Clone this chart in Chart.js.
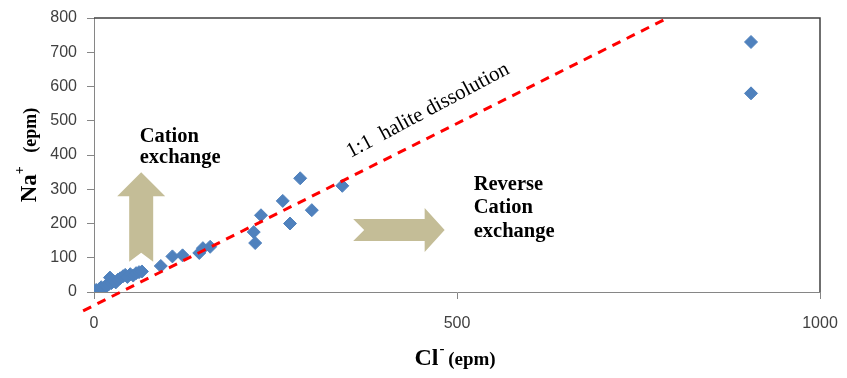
<!DOCTYPE html>
<html>
<head>
<meta charset="utf-8">
<script src="https://cdn.jsdelivr.net/npm/chart.js@4"></script>
<style>
  html, body { margin: 0; padding: 0; background: #fff; }
  #wrap { width: 847px; height: 378px; position: relative; }
</style>
</head>
<body>
<div id="wrap"><canvas id="naClChart"></canvas></div>
<script>
// Data (epm)
const clValues = [905, 905, 342, 284, 300, 260, 270, 230, 220, 222, 160, 150, 145, 122, 108, 92,
  0, 3, 6, 8, 10, 13, 16, 20, 22, 24, 27, 30, 33, 36, 40, 43, 46, 50, 54, 58, 62, 66];
const naValues = [730, 580, 310, 332, 239, 266, 200, 224, 175, 143, 132, 128, 114, 107, 104, 76,
  2, 6, 4, 10, 14, 8, 18, 22, 42, 26, 32, 28, 36, 40, 46, 50, 44, 52, 48, 55, 58, 60];
const halite = [[-15, -55], [790, 800]]; // 1:1 reference line ends
const xTicks = [0, 500, 1000];
const yTicks = [0, 100, 200, 300, 400, 500, 600, 700, 800];

const points = clValues.map((c, i) => ({ x: c, y: naValues[i] }));
const lineData = halite.map(p => ({ x: p[0], y: p[1] }));

// plot area edges in the picture
const plotLeft = 94, plotBottom = 292;

// Annotations: text, arrows and axis titles
const notes = {
  id: 'notes',
  beforeDatasetsDraw(chart) {
    const ctx = chart.ctx;
    const xs = chart.scales.x, ys = chart.scales.y;
    ctx.save();
    ctx.fillStyle = '#C4BD97';

    // up arrow (Cation exchange)
    let cx = xs.getPixelForValue(65), top = ys.getPixelForValue(350), bot = ys.getPixelForValue(88);
    ctx.beginPath();
    ctx.moveTo(cx, top);
    ctx.lineTo(cx + 24, top + 24);
    ctx.lineTo(cx + 12, top + 24);
    ctx.lineTo(cx + 12, bot);
    ctx.lineTo(cx, bot - 9);
    ctx.lineTo(cx - 12, bot);
    ctx.lineTo(cx - 12, top + 24);
    ctx.lineTo(cx - 24, top + 24);
    ctx.closePath();
    ctx.fill();

    // right arrow (Reverse cation exchange)
    let left = xs.getPixelForValue(357), tip = xs.getPixelForValue(483), cy = ys.getPixelForValue(181);
    ctx.beginPath();
    ctx.moveTo(left, cy - 11);
    ctx.lineTo(tip - 20, cy - 11);
    ctx.lineTo(tip - 20, cy - 22);
    ctx.lineTo(tip, cy);
    ctx.lineTo(tip - 20, cy + 22);
    ctx.lineTo(tip - 20, cy + 11);
    ctx.lineTo(left, cy + 11);
    ctx.lineTo(left + 11, cy);
    ctx.closePath();
    ctx.fill();
    ctx.restore();
  },
  afterDraw(chart) {
    const ctx = chart.ctx;
    const xs = chart.scales.x, ys = chart.scales.y;
    const area = chart.chartArea;
    ctx.save();

    // top and right frame
    ctx.strokeStyle = '#404040';
    ctx.lineWidth = 1.5;
    ctx.beginPath();
    ctx.moveTo(area.left, area.top);
    ctx.lineTo(area.right, area.top);
    ctx.lineTo(area.right, area.bottom);
    ctx.stroke();

    ctx.fillStyle = '#000';
    ctx.textBaseline = 'alphabetic';
    ctx.textAlign = 'left';
    ctx.font = 'bold 20.5px "Liberation Serif"';
    ctx.fillText('Cation', xs.getPixelForValue(63), ys.getPixelForValue(437));
    ctx.fillText('exchange', xs.getPixelForValue(63), ys.getPixelForValue(377));
    ctx.fillText('Reverse', xs.getPixelForValue(523), ys.getPixelForValue(298));
    ctx.fillText('Cation', xs.getPixelForValue(523), ys.getPixelForValue(230));
    ctx.fillText('exchange', xs.getPixelForValue(523), ys.getPixelForValue(162));

    // rotated line label
    ctx.save();
    ctx.translate(xs.getPixelForValue(460), ys.getPixelForValue(530));
    ctx.rotate(-28 * Math.PI / 180);
    ctx.textAlign = 'center';
    ctx.textBaseline = 'middle';
    ctx.font = '21px "Liberation Serif"';
    ctx.fillText('1:1  halite dissolution', 0, 0);
    ctx.restore();

    // y axis title: Na+ (epm)
    ctx.save();
    ctx.translate(28, (area.top + area.bottom) / 2);
    ctx.rotate(-Math.PI / 2);
    ctx.textAlign = 'left';
    ctx.textBaseline = 'alphabetic';
    const big = 'bold 23px "Liberation Serif"', sup = 'bold 14px "Liberation Serif"', small = 'bold 18px "Liberation Serif"';
    ctx.font = big; const wNa = ctx.measureText('Na').width;
    ctx.font = sup; const wPlus = ctx.measureText('+').width;
    ctx.font = small; const wEpm = ctx.measureText('   (epm)').width;
    let x0 = -(wNa + wPlus + wEpm) / 2;
    ctx.font = big; ctx.fillText('Na', x0, 8);
    ctx.font = sup; ctx.fillText('+', x0 + wNa, -4);
    ctx.font = small; ctx.fillText('   (epm)', x0 + wNa + wPlus, 8);
    ctx.restore();

    // x axis title: Cl- (epm)
    ctx.save();
    ctx.textAlign = 'left';
    ctx.textBaseline = 'alphabetic';
    const bigX = 'bold 24px "Liberation Serif"', supX = 'bold 15px "Liberation Serif"', smallX = 'bold 19px "Liberation Serif"';
    ctx.font = bigX; const wCl = ctx.measureText('Cl').width;
    ctx.font = supX; const wMin = ctx.measureText('-').width;
    ctx.font = smallX; const wE = ctx.measureText(' (epm)').width;
    let xx = 455 - (wCl + wMin + wE) / 2;
    ctx.font = bigX; ctx.fillText('Cl', xx, 365);
    ctx.font = supX; ctx.fillText('-', xx + wCl + 1, 353);
    ctx.font = smallX; ctx.fillText(' (epm)', xx + wCl + wMin, 365);
    ctx.restore();

    ctx.restore();
  }
};

const ctx = document.getElementById('naClChart').getContext('2d');
new Chart(ctx, {
  type: 'scatter',
  data: {
    datasets: [{
      type: 'line',
      label: '1:1 halite dissolution',
      data: lineData,
      borderColor: '#FF0000',
      borderWidth: 3,
      borderDash: [9, 7],
      pointRadius: 0,
      fill: false,
      clip: false,
      order: 0
    }, {
      label: 'Samples',
      data: points,
      pointStyle: 'rectRot',
      pointRadius: 6.5,
      pointBackgroundColor: '#4F81BD',
      pointBorderColor: '#4F81BD',
      pointBorderWidth: 1,
      order: 1
    }]
  },
  options: {
    responsive: true,
    maintainAspectRatio: false,
    animation: false,
    layout: { padding: { top: 18, right: 27, left: 0, bottom: 0 } },
    plugins: { legend: { display: false }, tooltip: { enabled: false } },
    scales: {
      x: {
        type: 'linear',
        min: 0, max: 1000,
        afterFit: s => { s.height = 378 - plotBottom; s.paddingRight = 0; s.paddingLeft = 0; },
        afterBuildTicks: s => { s.ticks = xTicks.map(v => ({ value: v })); },
        grid: { drawOnChartArea: false, drawTicks: true, tickLength: 7, color: '#868686' },
        border: { color: '#868686', width: 1 },
        ticks: { color: '#404040', padding: 15, font: { family: 'Liberation Sans', size: 16 }, maxRotation: 0,
          callback: v => String(v) }
      },
      y: {
        type: 'linear',
        min: 0, max: 800,
        afterFit: s => { s.width = plotLeft; s.paddingTop = 0; s.paddingBottom = 0; },
        afterBuildTicks: s => { s.ticks = yTicks.map(v => ({ value: v })); },
        grid: { drawOnChartArea: false, drawTicks: true, tickLength: 7, color: '#868686' },
        border: { color: '#868686', width: 1 },
        ticks: { color: '#404040', padding: 10, font: { family: 'Liberation Sans', size: 16 },
          callback: v => String(v) }
      }
    }
  },
  plugins: [notes]
});
</script>
</body>
</html>
